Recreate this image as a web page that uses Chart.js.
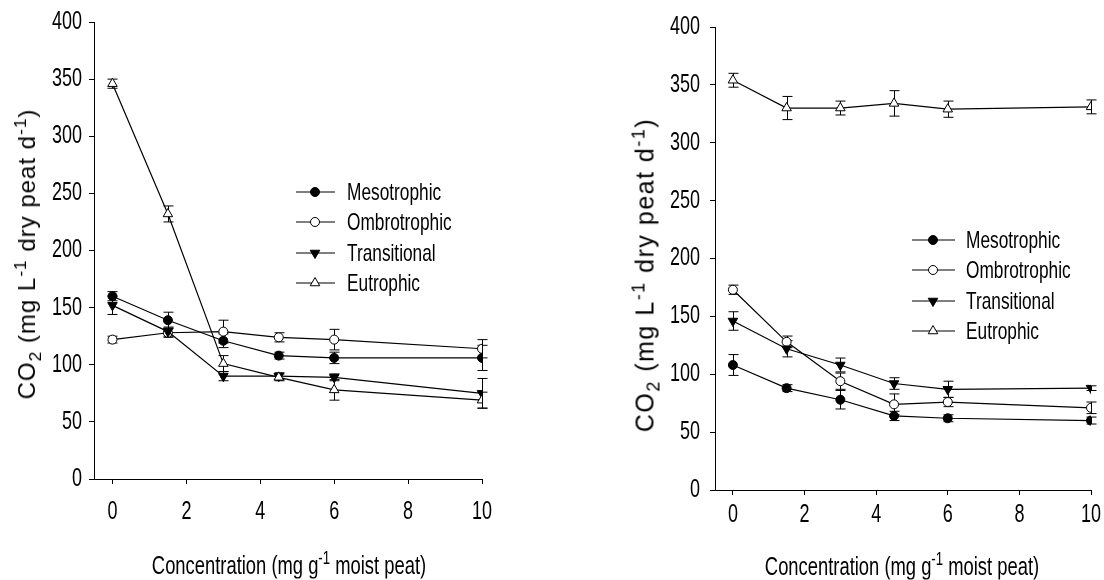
<!DOCTYPE html>
<html>
<head>
<meta charset="utf-8">
<script src="https://cdn.jsdelivr.net/npm/chart.js@4.4.0/dist/chart.umd.min.js"></script>
<style>
  html, body { margin: 0; padding: 0; background: #fff; }
  #wrap { position: relative; width: 1104px; height: 580px; overflow: hidden; }
  .panel { position: absolute; top: 0; width: 552px; height: 580px; }
  .title {
    position: absolute; white-space: nowrap; color: #000; line-height: 1;
    font-family: 'Liberation Sans', Arial, sans-serif; font-size: 25px;
  }
  .ytitle { transform: translate(-50%, -50%) rotate(-90deg); font-size: 24px; letter-spacing: 1px; }
  .xtitle { transform: translate(-50%, -50%) scaleX(0.735); }
  sub, sup { font-size: 72%; line-height: 0; }
</style>
</head>
<body>
<div id="wrap">
  <div class="panel" style="left:0"><canvas id="chartA" width="552" height="580"></canvas></div>
  <div class="panel" style="left:552px"><canvas id="chartB" width="552" height="580"></canvas></div>

  <div class="title ytitle" style="left:27px; top:254px">CO<sub>2</sub> (mg L<sup>-1</sup> dry peat d<sup>-1</sup>)</div>
  <div class="title xtitle" style="left:289px; top:565px">Concentration (mg g<sup>-1</sup> moist peat)</div>

  <div class="title ytitle" style="left:645px; top:275px; font-size:25px; letter-spacing:1.5px">CO<sub>2</sub> (mg L<sup>-1</sup> dry peat d<sup>-1</sup>)</div>
  <div class="title xtitle" style="left:902px; top:566px">Concentration (mg g<sup>-1</sup> moist peat)</div>
</div>

<script>
// Data
const concentrations = [0, 1.5, 3, 4.5, 6, 10];
const xTicks = [0, 2, 4, 6, 8, 10];
const yTicks = [0, 50, 100, 150, 200, 250, 300, 350, 400];
const seriesNames = ['Mesotrophic', 'Ombrotrophic', 'Transitional', 'Eutrophic'];

// left panel
const mesoA = [160, 139, 121, 108, 106, 106];
const mesoErrA = [4, 7, 6, 3, 5, 11];
const ombroA = [122, 128, 129, 124, 122, 114];
const ombroErrA = [3, 4, 10, 4, 9, 8];
const transA = [152, 129, 90, 90, 89, 75];
const transErrA = [8, 4, 4, 3, 3, 13];
const eutroA = [346, 232, 101, 89, 78, 69];
const eutroErrA = [4, 7, 7, 3, 9, 7];

// right panel
const mesoB = [108, 88, 78, 64, 62, 60];
const mesoErrB = [9, 3, 8, 4, 3, 3];
const ombroB = [173, 128, 94, 74, 76, 71];
const ombroErrB = [4, 5, 7, 9, 4, 5];
const transB = [146, 122, 108, 92, 87, 88];
const transErrB = [8, 7, 6, 5, 7, 2];
const eutroB = [354, 330, 330, 334, 329, 331];
const eutroErrB = [6, 10, 6, 11, 7, 6];

const TICK_FONT = "25px 'Liberation Sans', Arial, sans-serif";
const LEGEND_FONT = "24px 'Liberation Sans', Arial, sans-serif";
const NARROW = 0.72; // reference uses a condensed face

// marker looks per series
const markers = [
    { style: 'circle', radius: 4.5, fill: '#000', rotation: 0 },
    { style: 'circle', radius: 4.5, fill: '#fff', rotation: 0 },
    { style: 'triangle', radius: 5.5, fill: '#000', rotation: 180 },
    { style: 'triangle', radius: 5.5, fill: '#fff', rotation: 0 }
];

function drawNarrow(ctx, text, x, y, align) {
    ctx.save();
    ctx.translate(x, y);
    ctx.scale(NARROW, 1);
    ctx.textAlign = align;
    ctx.fillText(text, 0, 0);
    ctx.restore();
}

// --- Plugins ---
const errorBars = {
    id: 'errorBars',
    beforeDatasetsDraw(chart) {
        const { ctx, scales: { x, y } } = chart;
        ctx.save();
        ctx.strokeStyle = '#000';
        ctx.lineWidth = 1;
        chart.data.datasets.forEach(ds => {
            ds.data.forEach((pt, i) => {
                const e = ds.errors[i];
                const px = Math.round(x.getPixelForValue(pt.x)) + 0.5;
                const top = y.getPixelForValue(pt.y + e);
                const bot = y.getPixelForValue(pt.y - e);
                ctx.beginPath();
                ctx.moveTo(px, top); ctx.lineTo(px, bot);
                ctx.moveTo(px - 5, top); ctx.lineTo(px + 5, top);
                ctx.moveTo(px - 5, bot); ctx.lineTo(px + 5, bot);
                ctx.stroke();
            });
        });
        ctx.restore();
    }
};

const narrowTicks = {
    id: 'narrowTicks',
    afterDraw(chart, args, opts) {
        const { ctx, scales: { x, y } } = chart;
        ctx.save();
        ctx.font = TICK_FONT;
        ctx.fillStyle = '#000';
        ctx.textBaseline = 'middle';
        x.ticks.forEach(t => drawNarrow(ctx, String(t.value), x.getPixelForValue(t.value), x.top + opts.xGap, 'center'));
        y.ticks.forEach(t => drawNarrow(ctx, String(t.value), y.right - opts.yGap, y.getPixelForValue(t.value), 'right'));
        ctx.restore();
    }
};

const lineLegend = {
    id: 'lineLegend',
    afterDraw(chart, args, opts) {
        const ctx = chart.ctx;
        ctx.save();
        ctx.font = LEGEND_FONT;
        ctx.textBaseline = 'middle';
        chart.data.datasets.forEach((ds, i) => {
            const y = opts.rows[i];
            ctx.strokeStyle = '#000';
            ctx.lineWidth = 1.2;
            ctx.beginPath();
            ctx.moveTo(opts.x0, y); ctx.lineTo(opts.x1, y);
            ctx.stroke();
            const m = markers[i];
            ctx.fillStyle = m.fill;
            ctx.lineWidth = 1;
            Chart.helpers.drawPoint(ctx, { pointStyle: m.style, radius: m.radius, rotation: m.rotation, borderWidth: 1 }, opts.mx, y);
            ctx.fillStyle = '#000';
            drawNarrow(ctx, ds.label, opts.tx, y + 1, 'left');
        });
        ctx.restore();
    }
};

function buildDatasets(vals, errs) {
    return vals.map((v, i) => ({
        label: seriesNames[i],
        data: concentrations.map((c, j) => ({ x: c, y: v[j] })),
        errors: errs[i],
        borderColor: '#000',
        borderWidth: 1.2,
        pointStyle: markers[i].style,
        pointRadius: markers[i].radius,
        pointRotation: markers[i].rotation,
        pointBackgroundColor: markers[i].fill,
        pointBorderColor: '#000',
        pointBorderWidth: 1,
        tension: 0,
        fill: false,
        order: 3 - i
    }));
}

function makePanel(id, vals, errs, g) {
    return new Chart(document.getElementById(id), {
        type: 'line',
        data: { datasets: buildDatasets(vals, errs) },
        options: {
            responsive: false,
            animation: false,
            layout: { padding: g.padding },
            plugins: {
                legend: { display: false },
                tooltip: { enabled: false },
                lineLegend: g.legend,
                narrowTicks: { xGap: g.xGap, yGap: g.yGap }
            },
            scales: {
                x: {
                    type: 'linear',
                    min: -0.5,
                    max: 10,
                    afterBuildTicks: s => { s.ticks = xTicks.map(v => ({ value: v })); },
                    afterFit: s => { s.height = g.xH; },
                    grid: { drawOnChartArea: false, drawTicks: true, tickLength: 5, color: '#000' },
                    border: { display: true, color: '#000', width: 1 },
                    ticks: { display: false }
                },
                y: {
                    min: 0,
                    max: 400,
                    afterBuildTicks: s => { s.ticks = yTicks.map(v => ({ value: v })); },
                    afterFit: s => { s.width = g.yW; },
                    grid: { drawOnChartArea: false, drawTicks: true, tickLength: 5, color: '#000' },
                    border: { display: true, color: '#000', width: 1 },
                    ticks: { display: false }
                }
            }
        },
        plugins: [errorBars, narrowTicks, lineLegend]
    });
}

makePanel('chartA',
    [mesoA, ombroA, transA, eutroA],
    [mesoErrA, ombroErrA, transErrA, eutroErrA],
    {
        padding: { left: 0, top: 22, right: 70, bottom: 0 },
        yW: 94, xH: 101, xGap: 33, yGap: 12,
        legend: { x0: 296, x1: 335, mx: 315, tx: 347, rows: [192, 222, 253, 283] }
    });

makePanel('chartB',
    [mesoB, ombroB, transB, eutroB],
    [mesoErrB, ombroErrB, transErrB, eutroErrB],
    {
        padding: { left: 0, top: 27, right: 13, bottom: 0 },
        yW: 163, xH: 90, xGap: 25, yGap: 15,
        legend: { x0: 360, x1: 403, mx: 381, tx: 414, rows: [240, 270, 301, 331] }
    });
</script>
</body>
</html>
